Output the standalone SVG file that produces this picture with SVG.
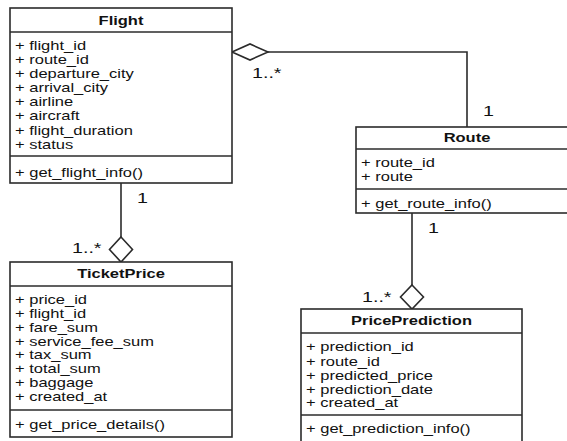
<svg xmlns="http://www.w3.org/2000/svg" width="567" height="441" viewBox="0 0 567 441">
<style>
.box{fill:#fff;stroke:#2b2b2b;stroke-width:1.6}
.sep{stroke:#2b2b2b;stroke-width:1.4}
.t{font-family:"Liberation Sans",Arial,sans-serif;font-size:13px;fill:#111}
.h{font-family:"Liberation Sans",Arial,sans-serif;font-size:13px;font-weight:bold;fill:#111;text-anchor:middle}
.m{font-family:"Liberation Sans",Arial,sans-serif;font-size:15.5px;fill:#111}
.ln{fill:none;stroke:#2b2b2b;stroke-width:1.6}
.dia{fill:#fff;stroke:#2b2b2b;stroke-width:1.6}
</style>
<rect width="567" height="441" fill="#fff"/>
<g id="connectors">
<path class="ln" d="M268 52 H467 V127"/>
<polygon class="dia" points="232,52 250,44 268,52 250,60"/>
<path class="ln" d="M121 183 V237"/>
<polygon class="dia" points="121,237 132.5,249.5 121,262 109.5,249.5"/>
<path class="ln" d="M412 213 V285"/>
<polygon class="dia" points="412,285 423.5,297 412,309 400.5,297"/>
<text class="m" transform="translate(252 78) scale(1.27 1)">1..*</text>
<text class="m" transform="translate(483 116) scale(1.27 1)">1</text>
<text class="m" transform="translate(137 203) scale(1.27 1)">1</text>
<text class="m" transform="translate(72 253) scale(1.27 1)">1..*</text>
<text class="m" transform="translate(428 233) scale(1.27 1)">1</text>
<text class="m" transform="translate(362 302) scale(1.27 1)">1..*</text>
</g>
<g id="Flight">
<rect class="box" x="10" y="8" width="222" height="175"/>
<line class="sep" x1="10" y1="32" x2="232" y2="32"/>
<line class="sep" x1="10" y1="156" x2="232" y2="156"/>
<text class="h" transform="translate(121 24.5) scale(1.27 1)">Flight</text>
<text class="t" transform="translate(15 49.5) scale(1.27 1)">+ flight_id</text>
<text class="t" transform="translate(15 63.7) scale(1.27 1)">+ route_id</text>
<text class="t" transform="translate(15 77.8) scale(1.27 1)">+ departure_city</text>
<text class="t" transform="translate(15 92) scale(1.27 1)">+ arrival_city</text>
<text class="t" transform="translate(15 106.1) scale(1.27 1)">+ airline</text>
<text class="t" transform="translate(15 120.3) scale(1.27 1)">+ aircraft</text>
<text class="t" transform="translate(15 134.5) scale(1.27 1)">+ flight_duration</text>
<text class="t" transform="translate(15 148.7) scale(1.27 1)">+ status</text>
<text class="t" transform="translate(15 176.5) scale(1.27 1)">+ get_flight_info()</text>
</g>
<g id="Route">
<rect class="box" x="356" y="127" width="222" height="86"/>
<line class="sep" x1="356" y1="149" x2="578" y2="149"/>
<line class="sep" x1="356" y1="189" x2="578" y2="189"/>
<text class="h" transform="translate(467 141.5) scale(1.27 1)">Route</text>
<text class="t" transform="translate(361 167) scale(1.27 1)">+ route_id</text>
<text class="t" transform="translate(361 181.3) scale(1.27 1)">+ route</text>
<text class="t" transform="translate(361 208) scale(1.27 1)">+ get_route_info()</text>
</g>
<g id="TicketPrice">
<rect class="box" x="10" y="262" width="222" height="175"/>
<line class="sep" x1="10" y1="286" x2="232" y2="286"/>
<line class="sep" x1="10" y1="410" x2="232" y2="410"/>
<text class="h" transform="translate(121 277.5) scale(1.27 1)">TicketPrice</text>
<text class="t" transform="translate(15 303.5) scale(1.27 1)">+ price_id</text>
<text class="t" transform="translate(15 317.5) scale(1.27 1)">+ flight_id</text>
<text class="t" transform="translate(15 331.5) scale(1.27 1)">+ fare_sum</text>
<text class="t" transform="translate(15 345.5) scale(1.27 1)">+ service_fee_sum</text>
<text class="t" transform="translate(15 359.3) scale(1.27 1)">+ tax_sum</text>
<text class="t" transform="translate(15 373.3) scale(1.27 1)">+ total_sum</text>
<text class="t" transform="translate(15 387.3) scale(1.27 1)">+ baggage</text>
<text class="t" transform="translate(15 401.3) scale(1.27 1)">+ created_at</text>
<text class="t" transform="translate(15 428.7) scale(1.27 1)">+ get_price_details()</text>
</g>
<g id="PricePrediction">
<rect class="box" x="301" y="309" width="221" height="136"/>
<line class="sep" x1="301" y1="333" x2="522" y2="333"/>
<line class="sep" x1="301" y1="415" x2="522" y2="415"/>
<text class="h" transform="translate(411.5 325) scale(1.27 1)">PricePrediction</text>
<text class="t" transform="translate(306 351.2) scale(1.27 1)">+ prediction_id</text>
<text class="t" transform="translate(306 365.5) scale(1.27 1)">+ route_id</text>
<text class="t" transform="translate(306 379.5) scale(1.27 1)">+ predicted_price</text>
<text class="t" transform="translate(306 393.5) scale(1.27 1)">+ prediction_date</text>
<text class="t" transform="translate(306 407.2) scale(1.27 1)">+ created_at</text>
<text class="t" transform="translate(306 433) scale(1.27 1)">+ get_prediction_info()</text>
</g>
</svg>
